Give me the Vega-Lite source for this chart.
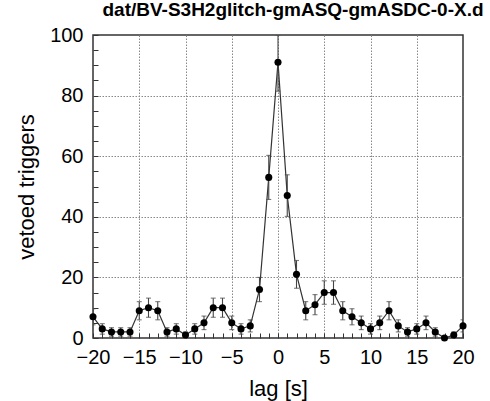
{
  "$schema": "https://vega.github.io/schema/vega-lite/v6.json",
  "autosize": "none",
  "width": 370,
  "height": 303,
  "padding": {"left": 93, "top": 35, "right": 27, "bottom": 63},
  "background": "white",
  "title": {
    "text": "dat/BV-S3H2glitch-gmASQ-gmASDC-0-X.d",
    "font": "Liberation Sans",
    "fontSize": 19,
    "fontWeight": "bold",
    "color": "black",
    "anchor": "middle",
    "dx": 15,
    "offset": 5
  },
  "config": {
    "view": {"stroke": "#333", "strokeWidth": 1.5},
    "axis": {
      "domain": false,
      "labelFont": "Liberation Sans",
      "labelFontSize": 20,
      "labelColor": "black",
      "titleFont": "Liberation Sans",
      "titleFontSize": 22,
      "titleFontWeight": "normal",
      "titleColor": "black",
      "tickColor": "#333",
      "tickWidth": 1,
      "gridColor": "#888",
      "gridDash": [1.5, 1.5],
      "gridWidth": 1
    }
  },
  "data": {
    "values": [
      {"lag": -20, "v": 7, "lo": 4.35, "hi": 9.65},
      {"lag": -19, "v": 3, "lo": 1.27, "hi": 4.73},
      {"lag": -18, "v": 2, "lo": 0.59, "hi": 3.41},
      {"lag": -17, "v": 2, "lo": 0.59, "hi": 3.41},
      {"lag": -16, "v": 2, "lo": 0.59, "hi": 3.41},
      {"lag": -15, "v": 9, "lo": 6, "hi": 12},
      {"lag": -14, "v": 10, "lo": 6.84, "hi": 13.16},
      {"lag": -13, "v": 9, "lo": 6, "hi": 12},
      {"lag": -12, "v": 2, "lo": 0.59, "hi": 3.41},
      {"lag": -11, "v": 3, "lo": 1.27, "hi": 4.73},
      {"lag": -10, "v": 1, "lo": 0, "hi": 2},
      {"lag": -9, "v": 3, "lo": 1.27, "hi": 4.73},
      {"lag": -8, "v": 5, "lo": 2.76, "hi": 7.24},
      {"lag": -7, "v": 10, "lo": 6.84, "hi": 13.16},
      {"lag": -6, "v": 10, "lo": 6.84, "hi": 13.16},
      {"lag": -5, "v": 5, "lo": 2.76, "hi": 7.24},
      {"lag": -4, "v": 3, "lo": 1.27, "hi": 4.73},
      {"lag": -3, "v": 4, "lo": 2, "hi": 6},
      {"lag": -2, "v": 16, "lo": 12, "hi": 20},
      {"lag": -1, "v": 53, "lo": 45.72, "hi": 60.28},
      {"lag": 0, "v": 91, "lo": 81.46, "hi": 100},
      {"lag": 1, "v": 47, "lo": 40.14, "hi": 53.86},
      {"lag": 2, "v": 21, "lo": 16.42, "hi": 25.58},
      {"lag": 3, "v": 9, "lo": 6, "hi": 12},
      {"lag": 4, "v": 11, "lo": 7.68, "hi": 14.32},
      {"lag": 5, "v": 15, "lo": 11.13, "hi": 18.87},
      {"lag": 6, "v": 15, "lo": 11.13, "hi": 18.87},
      {"lag": 7, "v": 9, "lo": 6, "hi": 12},
      {"lag": 8, "v": 7, "lo": 4.35, "hi": 9.65},
      {"lag": 9, "v": 5, "lo": 2.76, "hi": 7.24},
      {"lag": 10, "v": 3, "lo": 1.27, "hi": 4.73},
      {"lag": 11, "v": 5, "lo": 2.76, "hi": 7.24},
      {"lag": 12, "v": 9, "lo": 6, "hi": 12},
      {"lag": 13, "v": 4, "lo": 2, "hi": 6},
      {"lag": 14, "v": 2, "lo": 0.59, "hi": 3.41},
      {"lag": 15, "v": 3, "lo": 1.27, "hi": 4.73},
      {"lag": 16, "v": 5, "lo": 2.76, "hi": 7.24},
      {"lag": 17, "v": 2, "lo": 0.59, "hi": 3.41},
      {"lag": 18, "v": 0, "lo": 0, "hi": 0},
      {"lag": 19, "v": 1, "lo": 0, "hi": 2},
      {"lag": 20, "v": 4, "lo": 2, "hi": 6}
    ]
  },
  "encoding": {
    "x": {
      "field": "lag", "type": "quantitative",
      "scale": {"domain": [-20, 20], "nice": false, "zero": false},
      "axis": {
        "title": "lag [s]",
        "grid": true,
        "ticks": true,
        "tickSize": -5,
        "values": [-20,-19,-18,-17,-16,-15,-14,-13,-12,-11,-10,-9,-8,-7,-6,-5,-4,-3,-2,-1,0,1,2,3,4,5,6,7,8,9,10,11,12,13,14,15,16,17,18,19,20],
        "labelExpr": "datum.value % 5 === 0 ? datum.label : ''",
        "labelOverlap": false,
        "labelPadding": 14,
        "labelFlush": false,
        "labelBound": false,
        "gridOpacity": {"condition": {"test": "abs(datum.value) % 5 > 0 || abs(datum.value) === 20", "value": 0}, "value": 1},
        "titleX": 185,
        "titleY": 50,
        "titleBaseline": "middle",
        "titleAlign": "center"
      }
    },
    "y": {
      "field": "v", "type": "quantitative",
      "scale": {"domain": [0, 100], "nice": false},
      "axis": {
        "title": "vetoed triggers",
        "grid": true,
        "ticks": true,
        "tickSize": -5,
        "values": [0,5,10,15,20,25,30,35,40,45,50,55,60,65,70,75,80,85,90,95,100],
        "labelExpr": "datum.value % 20 === 0 ? datum.label : ''",
        "labelOverlap": false,
        "labelPadding": 15,
        "labelFlush": false,
        "labelBound": false,
        "gridOpacity": {"condition": {"test": "datum.value % 20 > 0 || datum.value === 0 || datum.value === 100", "value": 0}, "value": 1},
        "titleX": -67,
        "titleY": 151.5,
        "titleBaseline": "middle",
        "titleAlign": "center"
      }
    }
  },
  "layer": [
    {
      "mark": {"type": "line", "color": "#333", "strokeWidth": 1.2}
    },
    {
      "mark": {"type": "rule", "color": "#444", "strokeWidth": 1.1, "clip": true},
      "encoding": {
        "y": {"field": "lo", "type": "quantitative"},
        "y2": {"field": "hi"}
      }
    },
    {
      "mark": {"type": "tick", "orient": "horizontal", "size": 5, "thickness": 1.1, "color": "#444", "clip": true},
      "encoding": {
        "y": {"field": "lo", "type": "quantitative"}
      }
    },
    {
      "mark": {"type": "tick", "orient": "horizontal", "size": 5, "thickness": 1.1, "color": "#444", "clip": true},
      "encoding": {
        "y": {"field": "hi", "type": "quantitative"}
      }
    },
    {
      "mark": {"type": "circle", "size": 50, "color": "black", "opacity": 1}
    }
  ]
}
